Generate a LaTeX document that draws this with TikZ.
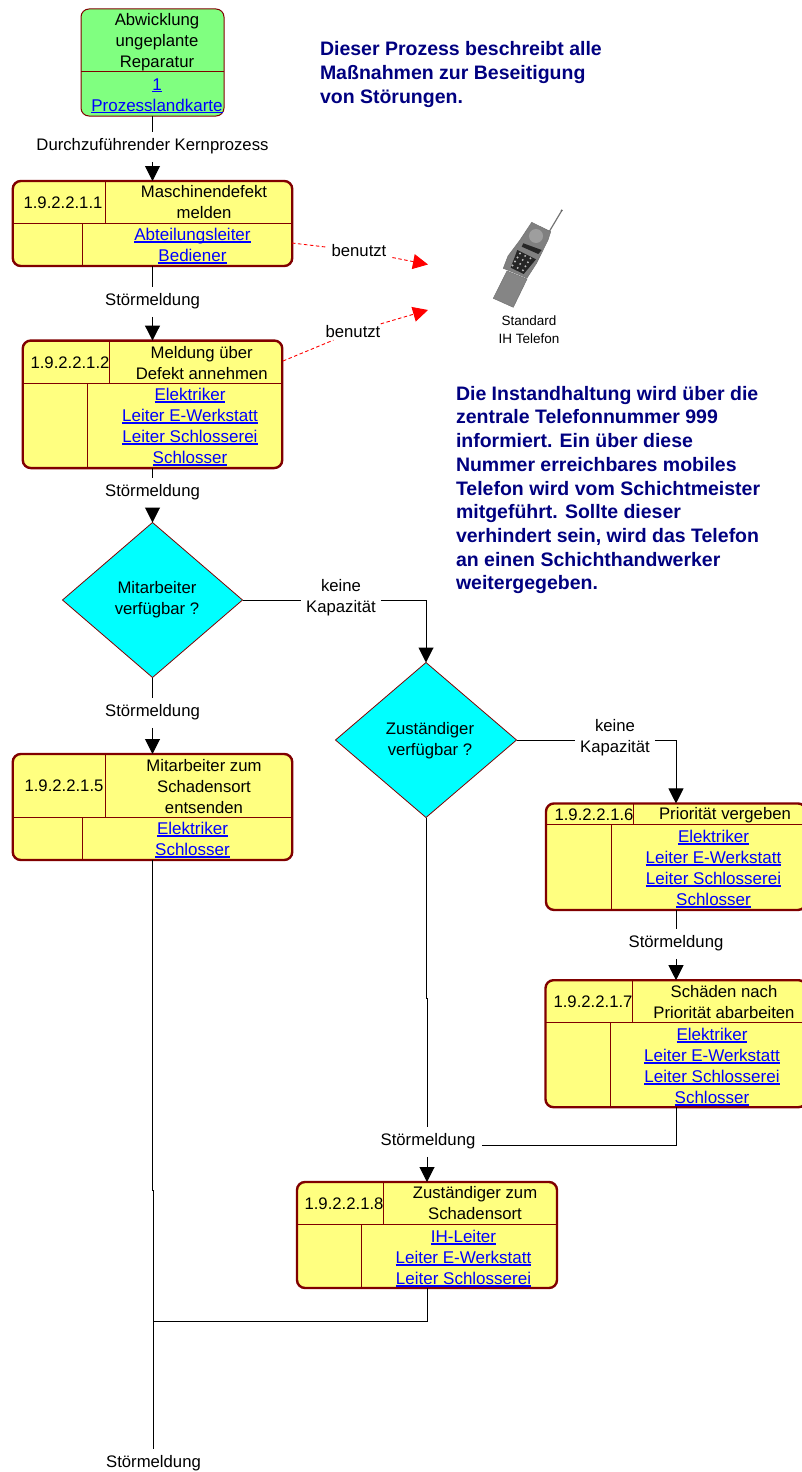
\documentclass[tikz,border=0pt]{standalone}
\usepackage{fontspec}
\setmainfont{Liberation Sans}
\usetikzlibrary{arrows.meta,shapes.geometric}
\definecolor{boxred}{RGB}{128,0,0}
\definecolor{boxyellow}{RGB}{255,255,128}
\definecolor{boxgreen}{RGB}{128,255,128}
\definecolor{boxcyan}{RGB}{0,255,255}
\definecolor{notenavy}{RGB}{0,0,128}
\definecolor{linkblue}{RGB}{0,0,255}
\definecolor{pureblack}{RGB}{0,0,0}
\definecolor{purered}{RGB}{255,0,0}
\newcommand{\lnk}[1]{\textcolor{linkblue}{\fontsize{17}{21}\selectfont\setbox0=\hbox{#1}\rlap{\rule[-2.2pt]{\wd0}{1.4pt}}\box0}}

\begin{document}
\begin{tikzpicture}[x=1pt,y=-1pt,
    every node/.style={font=\fontsize{16.7}{21}\selectfont,align=center,inner sep=0pt,outer sep=0pt},
    proc/.style={draw=boxred,line width=2.4pt,fill=boxyellow,rounded corners=8pt},
    start/.style={draw=boxred,line width=1pt,fill=boxgreen,rounded corners=8pt},
    cell/.style={draw=boxred,line width=1pt},
    choice/.style={diamond,draw=boxred,line width=.8pt,fill=boxcyan},
    flowlabel/.style={fill=white,inner xsep=3pt,inner ysep=6pt},
    flow/.style={draw=pureblack,line width=1pt},
    flowto/.style={flow,-{Triangle[length=15pt,width=15pt]},shorten <=2pt},
    uses/.style={draw=purered,line width=.9pt,dash pattern=on 3.5pt off 2.5pt,-{Triangle[length=15pt,width=15pt,fill=purered]}},
    note/.style={font=\fontsize{19.5}{24}\bfseries\selectfont,text=notenavy,align=left,anchor=west},
    phonebody/.style={fill=black!50,draw=black!55,line width=.5pt}]
  \useasboundingbox (0,0) rectangle (802,1472);

  % Start
  \node (proc0) at (152.5,62.5) [start,minimum width=143pt,minimum height=107pt] {};
  \draw[cell] (81,72) to (224,72);
  \node (proc0t) at (157,42) {Abwicklung\\ungeplante\\Reparatur};
  \node (proc0l) at (157,96) {\lnk{1}\\\lnk{Prozesslandkarte}};

  % Notes
  \node (noteA) at (320,75) [note] {Dieser Prozess beschreibt alle\\Maßnahmen zur Beseitigung\\von Störungen.};
  \node (noteB) at (456,490) [note,font=\fontsize{19.5}{23.7}\bfseries\selectfont] {Die Instandhaltung wird über die\\zentrale Telefonnummer 999\\informiert. Ein über diese\\Nummer erreichbares mobiles\\Telefon wird vom Schichtmeister\\mitgeführt. Sollte dieser\\verhindert sein, wird das Telefon\\an einen Schichthandwerker\\weitergegeben.};

  % 1.9.2.2.1.1
  \node (proc1) at (152.5,223.5) [proc,minimum width=279.5pt,minimum height=85pt] {};
  \draw[cell] (12,223) to (292,223) (105.5,181) to (105.5,223) (82,223) to (82,266);
  \node (proc1n) at (63,203) {1.9.2.2.1.1};
  \node (proc1t) at (204,202.5) {Maschinendefekt\\melden};
  \node (proc1l) at (192.5,246) {\lnk{Abteilungsleiter}\\\lnk{Bediener}};

  % 1.9.2.2.1.2
  \node (proc2) at (152.5,404.3) [proc,minimum width=259.5pt,minimum height=127.5pt] {};
  \draw[cell] (23,383) to (282,383) (109.5,341) to (109.5,383) (87,383) to (87,468);
  \node (proc2n) at (70,363) {1.9.2.2.1.2};
  \node (proc2t) at (201.7,363) {Meldung über\\Defekt annehmen};
  \node (proc2l) at (190,427) {\lnk{Elektriker}\\\lnk{Leiter E-Werkstatt}\\\lnk{Leiter Schlosserei}\\\lnk{Schlosser}};

  % 1.9.2.2.1.5
  \node (proc5) at (152.5,807) [proc,minimum width=279.5pt,minimum height=106pt] {};
  \draw[cell] (12,817) to (292,817) (105.5,754) to (105.5,817) (82,817) to (82,860);
  \node (proc5n) at (64,786) {1.9.2.2.1.5};
  \node (proc5t) at (204,787) {Mitarbeiter zum\\Schadensort\\entsenden};
  \node (proc5l) at (192.5,840) {\lnk{Elektriker}\\\lnk{Schlosser}};

  % 1.9.2.2.1.6
  \node (proc6) at (676,856.7) [proc,minimum width=260pt,minimum height=106.5pt] {};
  \draw[cell] (547,824.7) to (806,824.7) (633.7,804) to (633.7,824.7) (611.7,824.7) to (611.7,910);
  \node (proc6n) at (594,815) {1.9.2.2.1.6};
  \node (proc6t) at (725,815) {Priorität vergeben};
  \node (proc6l) at (713.5,869) {\lnk{Elektriker}\\\lnk{Leiter E-Werkstatt}\\\lnk{Leiter Schlosserei}\\\lnk{Schlosser}};

  % 1.9.2.2.1.7
  \node (proc7) at (676,1043.7) [proc,minimum width=261pt,minimum height=127pt] {};
  \draw[cell] (546,1022.7) to (806,1022.7) (632.3,980) to (632.3,1022.7) (610.3,1022.7) to (610.3,1107);
  \node (proc7n) at (593,1001.7) {1.9.2.2.1.7};
  \node (proc7t) at (724,1002) {Schäden nach\\Priorität abarbeiten};
  \node (proc7l) at (712,1067) {\lnk{Elektriker}\\\lnk{Leiter E-Werkstatt}\\\lnk{Leiter Schlosserei}\\\lnk{Schlosser}};

  % 1.9.2.2.1.8
  \node (proc8) at (427,1235) [proc,minimum width=260pt,minimum height=106pt] {};
  \draw[cell] (297,1224.3) to (556,1224.3) (383.7,1182) to (383.7,1224.3) (361.3,1224.3) to (361.3,1288);
  \node (proc8n) at (344,1204) {1.9.2.2.1.8};
  \node (proc8t) at (475,1203.5) {Zuständiger zum\\Schadensort};
  \node (proc8l) at (463.5,1258.5) {\lnk{IH-Leiter}\\\lnk{Leiter E-Werkstatt}\\\lnk{Leiter Schlosserei}};

  % Decisions
  \node (dec1) at (152.5,600) [choice,minimum width=180pt,minimum height=155pt] {};
  \node (dec1t) at (157,599.5) {Mitarbeiter\\verfügbar ?};
  \node (dec2) at (426,740) [choice,minimum width=181pt,minimum height=155pt] {};
  \node (dec2t) at (430,740.5) {Zuständiger\\verfügbar ?};

  % Labels on the lines
  \node (lab0) at (152.5,146) [flowlabel] {Durchzuführender Kernprozess};
  \node (lab1) at (152.5,301) [flowlabel] {Störmeldung};
  \node (lab2) at (152.5,492) [flowlabel] {Störmeldung};
  \node (lab3) at (152.5,712) [flowlabel] {Störmeldung};
  \node (lab4) at (676,943) [flowlabel] {Störmeldung};
  \node (lab5) at (428,1141) [flowlabel] {Störmeldung};
  \node (lab6) at (153.5,1463) [flowlabel] {Störmeldung};
  \node (kap1) at (341,598) [flowlabel,inner xsep=5pt] {keine\\Kapazität};
  \node (kap2) at (615,738) [flowlabel,inner xsep=5pt] {keine\\Kapazität};
  \coordinate (join5) at (482,1145);
  \coordinate (join8) at (153.5,1321);

  \draw[flow] (proc0.south) to (lab0.north);
  \draw[flowto] (lab0.south) to (proc1.north);
  \draw[flow] (proc1.south) to (lab1.north);
  \draw[flowto] (lab1.south) to (proc2.north);
  \draw[flow] (proc2.south) to (lab2.north);
  \draw[flowto] (lab2.south) to (dec1.north);
  \draw[flow] (dec1.south) to (lab3.north);
  \draw[flowto] (lab3.south) to (proc5.north);
  \draw[flow] (dec1.east) to (dec1.east -| kap1.west);
  \draw[flowto,shorten <=0pt] (dec1.east -| kap1.east) -| (dec2.north);
  \draw[flow] (dec2.east) to (dec2.east -| kap2.west);
  \draw[flowto,shorten <=0pt] (dec2.east -| kap2.east) -| (proc6.north);
  \draw[flow] (proc6.south) to (lab4.north);
  \draw[flowto] (lab4.south) to (proc7.north);
  \draw[flow] (proc7.south) |- (join5);
  \draw[flow] (dec2.south) to (426,998) to (427,998) to (lab5.north -| proc8.north);
  \draw[flowto] (lab5.south -| proc8.north) to (proc8.north);
  \draw[flow] (proc5.south) to (152.5,1190) to (153.5,1190) to (lab6.north);
  \draw[flow] (proc8.south) |- (join8);

  % Phone
  \draw[black!55,line width=1.2pt] (549,232) to (561.5,211);
  \fill[black!60] (561.7,210.5) circle (1.2pt);
  \path[phonebody] (531.7,222.3) to (550.7,231.7) to (548,240) to (536.7,263) to (527,278) to (503.3,268.3) to (508,256) to (520,240) to cycle;
  \path[phonebody,fill=black!48] (507,271) to (527,279) to (513.3,307.3) to (493.3,298.3) to cycle;
  \fill[black!38] (536,236) circle (7pt);
  \fill[black!85] (523.3,243.3) to (541.7,250) to (538.3,254) to (521.7,246.7) to cycle;
  \fill[black!85] (517.3,250) to (536,259.3) to (523.7,274) to (510.7,267.7) to cycle;
  \foreach \col in {0,1,2} {
    \foreach \row in {0,1,2,3} {
      \fill[black!25] (520+\col*5.2-\row*2.5,253.5+\col*2.4+\row*4) circle (1.1pt);
    }
  }
  \node (phone) at (529,329.5) [font=\fontsize{13.5}{18}\selectfont] {Standard\\IH Telefon};

  % benutzt
  \coordinate (use1) at (292,243);
  \coordinate (use2) at (283,361);
  \coordinate (tip1) at (428,264.5);
  \coordinate (tip2) at (428,310);
  \node (ben1) at (359,251) [flowlabel,inner xsep=6pt,inner ysep=2pt] {benutzt};
  \node (ben2) at (353,332) [flowlabel,inner xsep=6pt,inner ysep=2pt] {benutzt};
  \draw[uses,-] (use1) to (ben1);
  \draw[uses] (ben1) to (tip1);
  \draw[uses,-] (use2) to (ben2);
  \draw[uses] (ben2) to (tip2);
\end{tikzpicture}
\end{document}
